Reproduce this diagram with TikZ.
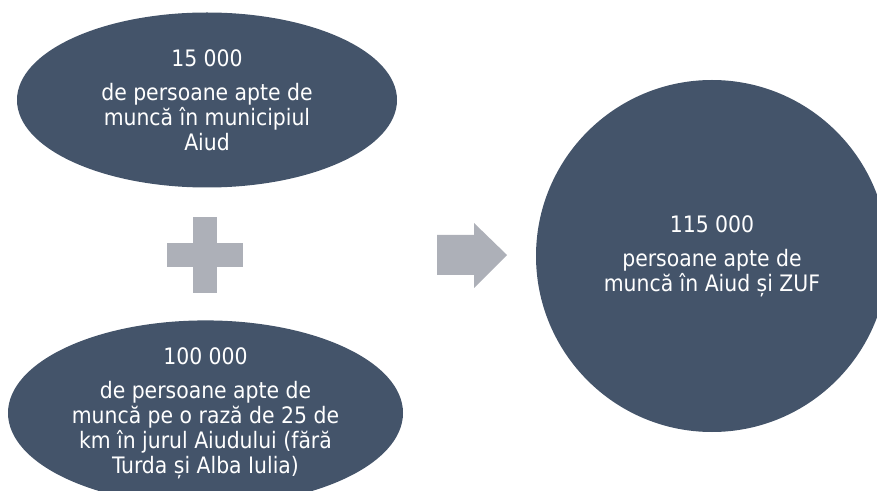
\documentclass[tikz,border=0pt]{standalone}
\usepackage{fontspec}
\setmainfont{DejaVu Sans Condensed}
\usepackage{tikz}
\usetikzlibrary{shapes.geometric, positioning}

\definecolor{slate}{HTML}{44546A}
\definecolor{signgrey}{HTML}{ADB0B8}

\begin{document}
\begin{tikzpicture}[
    x=0.75pt, y=-0.75pt,
    font=\fontsize{17}{18.75}\selectfont,
    bubble/.style={fill=slate, text=white, align=center, inner sep=0pt},
    sign/.style={fill=signgrey}
]
    \useasboundingbox (0,0) rectangle (877,491);

    % Inputs
    \node [bubble, ellipse, minimum width=380*0.75pt, minimum height=175*0.75pt] (Aiud) at (207,100)
        {15 000\\[6.5pt]de persoane apte de\\muncă în municipiul\\Aiud};
    \node [bubble, ellipse, minimum width=395*0.75pt, minimum height=184*0.75pt] (Zone) at (205.5,413)
        {100 000\\[6.5pt]de persoane apte de\\muncă pe o rază de 25 de\\km în jurul Aiudului (fără\\Turda și Alba Iulia)};

    % Result
    \node [bubble, circle, minimum size=352*0.75pt] (Total) at (712,256)
        {115 000\\[6.5pt]persoane apte de\\muncă în Aiud și ZUF};

    % Plus sign between the inputs
    \fill [sign] (193,217) rectangle (217,293);
    \fill [sign] (167,243) rectangle (243,267);

    % Block arrow towards the result
    \fill [sign] (437,235) -- (474,235) -- (474,223) -- (507,255) -- (474,288) -- (474,275) -- (437,275) -- cycle;

\end{tikzpicture}
\end{document}
